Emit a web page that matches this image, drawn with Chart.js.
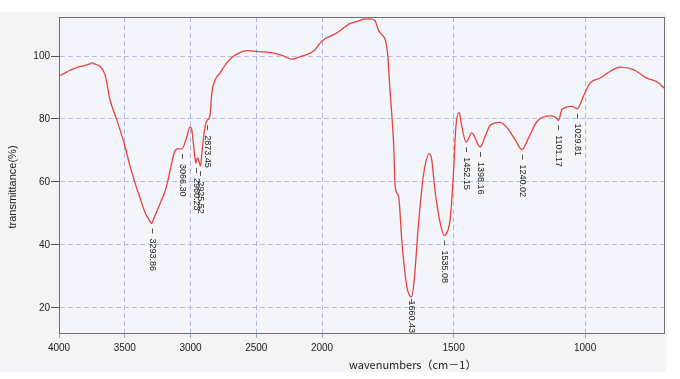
<!DOCTYPE html>
<html>
<head>
<meta charset="utf-8">
<script src="https://cdn.jsdelivr.net/npm/chart.js@4/dist/chart.umd.min.js"></script>
<style>
  html, body { margin: 0; padding: 0; background: #fff; }
  #wrap { width: 680px; height: 379px; }
</style>
</head>
<body>
<div id="wrap"><canvas id="irChart" width="680" height="379"></canvas></div>
<script>
// spectrum: wavenumber (cm-1) and transmittance (%)
const waves = [4000, 3960, 3920, 3880, 3840, 3800, 3770, 3749, 3720, 3688, 3650, 3612, 3561, 3498, 3460,
  3422, 3380, 3346, 3320, 3294, 3283, 3245, 3219, 3194, 3169, 3143, 3125, 3100, 3066, 3034, 3004, 2991,
  2973, 2960, 2948, 2935, 2925, 2912, 2897, 2882, 2873, 2852, 2839, 2814, 2776, 2725, 2674, 2624, 2573,
  2497, 2470, 2370, 2300, 2230, 2180, 2142, 2066, 2000, 1944, 1894, 1868, 1843, 1818, 1799, 1786, 1773,
  1760, 1751, 1741, 1728, 1722, 1709, 1696, 1678, 1660, 1650, 1634, 1615, 1592, 1583, 1571, 1551, 1535,
  1523, 1513, 1501, 1491, 1479, 1469, 1452, 1431, 1398, 1380, 1361, 1323, 1291, 1266, 1240, 1215, 1183,
  1133, 1114, 1101, 1088, 1050, 1030, 1004, 981, 943, 905, 867, 816, 766, 728, 700];
const trans = [93.7, 94.5, 95.4, 96.1, 96.6, 97.0, 97.4, 97.8, 97.3, 96.7, 94.0, 86.1, 79.8, 71.3, 65.0,
  59.7, 54.4, 50.3, 48.3, 46.8, 48.0, 51.7, 54.4, 57.0, 61.0, 66.0, 69.2, 70.5, 70.5, 73.4, 77.5, 76.6,
  70.3, 66.0, 67.6, 66.5, 65.0, 69.7, 75.6, 78.9, 79.6, 81.0, 88.0, 92.3, 94.6, 97.8, 99.9, 101.1, 101.7,
  101.5, 101.4, 100.9, 100.1, 99.0, 99.6, 100.1, 101.5, 104.8, 107.3, 110.3, 110.9, 111.7, 111.8, 111.3, 108.3, 106.8,
  105.2, 101.0, 88.3, 72.4, 58.6, 55.4, 40.6, 26.9, 23.5, 28.5, 45.9, 61.8, 69.0, 67.1, 57.6, 47.0, 43.0,
  44.3, 48.0, 61.8, 77.7, 82.1, 77.7, 72.6, 75.6, 71.1, 74.5, 77.9, 78.9, 76.6, 73.4, 70.3, 74.0, 79.2,
  81.0, 80.6, 79.6, 83.0, 84.0, 83.3, 87.7, 91.4, 93.0, 95.1, 96.5, 95.7, 93.0, 91.9, 89.8];

const xTicks = [4000, 3500, 3000, 2500, 2000, 1500, 1000];
const yTicks = [20, 40, 60, 80, 100];

// peak picks
const peakLabels = ['3293.86', '3066.30', '2960.23', '2925.52', '2873.45', '1660.43', '1535.08',
  '1452.15', '1398.16', '1240.02', '1101.17', '1029.81'];
const peakWaves = [3293.86, 3066.30, 2960.23, 2925.52, 2873.45, 1660.43, 1535.08, 1452.15, 1398.16,
  1240.02, 1101.17, 1029.81];
const peakTrans = [46.8, 70.5, 66.0, 65.0, 79.6, 23.5, 43.0, 72.6, 71.1, 70.3, 79.6, 83.3];

// wavenumber axis, left = high; the scale is doubled below 2000 cm-1
class IrScale extends Chart.LinearScale {
  irTotal() {
    return (this.max - 2000) + 2 * (2000 - this.min);
  }
  getPixelForValue(v) {
    if (v === null || v === undefined) return NaN;
    const u = v >= 2000 ? this.max - v : (this.max - 2000) + 2 * (2000 - v);
    return this.left + this.width * u / this.irTotal();
  }
  getValueForPixel(p) {
    const u = (p - this.left) / this.width * this.irTotal();
    const hi = this.max - 2000;
    return u <= hi ? this.max - u : 2000 - (u - hi) / 2;
  }
}
IrScale.id = 'ir';
IrScale.defaults = Chart.LinearScale.defaults;
Chart.register(IrScale);

const decor = {
  id: 'decor',
  beforeDraw(chart) {
    const { ctx, chartArea: a } = chart;
    ctx.save();
    ctx.fillStyle = '#ffffff';
    ctx.fillRect(0, 0, chart.width, chart.height);
    ctx.fillStyle = '#f3f3f8';
    ctx.fillRect(0, 12, 667, 360);
    ctx.fillStyle = '#f4f4fb';
    ctx.fillRect(a.left, a.top, a.right - a.left, a.bottom - a.top);
    ctx.restore();
  },
  afterDatasetsDraw(chart) {
    const { ctx, chartArea: a } = chart;
    const xs = chart.scales.x, ys = chart.scales.y;
    ctx.save();
    // frame
    ctx.strokeStyle = '#707070';
    ctx.lineWidth = 1;
    ctx.strokeRect(Math.round(a.left) + 0.5, Math.round(a.top) + 0.5,
      Math.round(a.right - a.left), Math.round(a.bottom - a.top));

    // peak labels
    ctx.font = '9px "Liberation Sans", Arial, sans-serif';
    ctx.fillStyle = '#1a1a1a';
    ctx.strokeStyle = '#555';
    ctx.textAlign = 'left';
    ctx.textBaseline = 'middle';
    peakWaves.forEach((w, i) => {
      const px = Math.round(xs.getPixelForValue(w)) + 0.5;
      const py = ys.getPixelForValue(peakTrans[i]);
      const tw = ctx.measureText(peakLabels[i]).width;
      const start = Math.min(py + 15, a.bottom - tw);
      const t1 = Math.max(py + 2, start - 10);
      ctx.beginPath();
      ctx.moveTo(px, t1);
      ctx.lineTo(px, t1 + 5);
      ctx.stroke();
      ctx.save();
      ctx.translate(px, start);
      ctx.rotate(Math.PI / 2);
      ctx.fillText(peakLabels[i], 0, 0);
      ctx.restore();
    });

    // axis titles
    ctx.fillStyle = '#222';
    ctx.font = '11px "Liberation Sans", Arial, sans-serif';
    ctx.save();
    ctx.translate(13, 187);
    ctx.rotate(-Math.PI / 2);
    ctx.textAlign = 'center';
    ctx.fillText('transmittance(%)', 0, 0);
    ctx.restore();
    ctx.font = '11px "Noto Sans CJK JP", sans-serif';
    ctx.textAlign = 'left';
    ctx.fillText('wavenumbers（cm－1）', 349, 365);
    ctx.restore();
  }
};

const ctx = document.getElementById('irChart');
const chart = new Chart(ctx, {
  type: 'line',
  data: {
    datasets: [{
      label: 'IR',
      data: waves.map((w, i) => ({ x: w, y: trans[i] })),
      borderColor: '#e8403c',
      borderWidth: 1.3,
      pointRadius: 0,
      fill: false,
      cubicInterpolationMode: 'monotone'
    }]
  },
  options: {
    responsive: false,
    animation: false,
    devicePixelRatio: 1,
    layout: { padding: { top: 17, right: 16, left: 0, bottom: 0 } },
    plugins: { legend: { display: false }, tooltip: { enabled: false } },
    scales: {
      x: {
        type: 'ir',
        min: 700,
        max: 4000,
        bounds: 'data',
        afterBuildTicks: axis => { axis.ticks = xTicks.map(v => ({ value: v })); },
        afterFit: axis => { axis.height = 46; },
        grid: { color: '#adb9e6', lineWidth: 1, tickLength: 5, tickColor: '#9aa3c8' },
        border: { dash: [5, 3], color: '#555', width: 1 },
        ticks: {
          callback: v => String(v),
          font: { family: '"Liberation Sans", Arial, sans-serif', size: 10 },
          color: '#222',
          padding: 4,
          maxRotation: 0,
          autoSkip: false
        }
      },
      y: {
        min: 12,
        max: 112.4,
        bounds: 'data',
        afterBuildTicks: axis => { axis.ticks = yTicks.map(v => ({ value: v })); },
        afterFit: axis => { axis.width = 59; },
        grid: { color: '#b9bde6', lineWidth: 1, tickLength: 8, tickColor: '#555' },
        border: { dash: [5, 3], color: '#555', width: 1 },
        ticks: {
          callback: v => String(v),
          font: { family: '"Liberation Sans", Arial, sans-serif', size: 10 },
          color: '#222',
          padding: 1
        }
      }
    }
  },
  plugins: [decor]
});
</script>
</body>
</html>
